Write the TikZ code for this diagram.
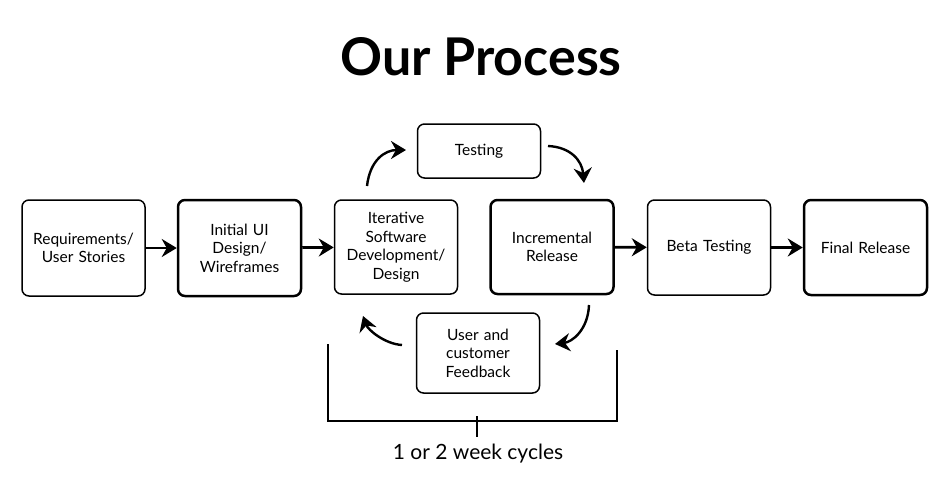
\documentclass[tikz,border=0pt]{standalone}
\usepackage{fontspec}
\setmainfont{Lato}
\usetikzlibrary{arrows.meta}
\begin{document}
\begin{tikzpicture}[x=1pt,y=-1pt,
  box/.style={draw, rounded corners=7pt, line width=1.5pt, minimum width=123pt, text width=119pt, align=center, font=\fontsize{15.5}{18.5}\selectfont, inner sep=2pt},
  thickbox/.style={box, line width=2.5pt},
  flow/.style={line width=2.8pt, -{Stealth[length=15pt,width=18pt,inset=5pt]}},
  loop/.style={line width=2.4pt, -{Stealth[length=15pt,width=18pt,inset=5pt]}},
  brk/.style={line width=2.2pt}]
\useasboundingbox (0,0) rectangle (951,501);
\node (title) at (481,57) {\fontsize{52}{56}\selectfont\bfseries Our Process};
\node[box, minimum height=96pt] (req) at (83.5,248) {Requirements/\\User Stories};
\node[thickbox, minimum height=96pt] (ui) at (239.5,248) {Initial UI\\Design/\\Wireframes};
\node[box, minimum height=94pt] (iter) at (396,247) {Iterative\\Software\\Development/\\Design};
\node[box, minimum height=54pt] (test) at (479,151) {Testing};
\node[thickbox, minimum height=94pt] (inc) at (552,247) {Incremental\\Release};
\node[box, minimum height=95pt] (beta) at (709,247.5) {Beta Testing};
\node[thickbox, minimum height=95pt] (final) at (865.5,247.5) {Final Release};
\node[box, minimum height=80pt] (fb) at (478,353) {User and\\customer\\Feedback};
\draw[flow] (req) -- (ui);
\draw[flow] (ui) -- (iter);
\draw[flow] (inc) -- (beta);
\draw[flow] (beta) -- (final);
\coordinate (a1s) at (367,186);
\coordinate (a1e) at (406,150);
\draw[loop] (a1s) .. controls (370,160) and (385,150) .. (a1e);
\coordinate (a2s) at (548,146);
\coordinate (a2e) at (584,183);
\draw[loop] (a2s) .. controls (570,147) and (582,160) .. (a2e);
\coordinate (a3s) at (589,305);
\coordinate (a3e) at (555,344);
\draw[loop] (a3s) .. controls (588,330) and (572,342) .. (a3e);
\coordinate (a4s) at (402,345);
\coordinate (a4e) at (363,316);
\draw[loop] (a4s) .. controls (385,344) and (368,330) .. (a4e);
\coordinate (bl) at (328,344);
\coordinate (br) at (617,350);
\draw[brk] (bl) |- (477,421) -| (br);
\draw[brk, line width=2.8pt] (477,416) -- (477,437);
\node (cyc) at (478,454) {\fontsize{21}{24}\selectfont 1 or 2 week cycles};
\end{tikzpicture}
\end{document}
